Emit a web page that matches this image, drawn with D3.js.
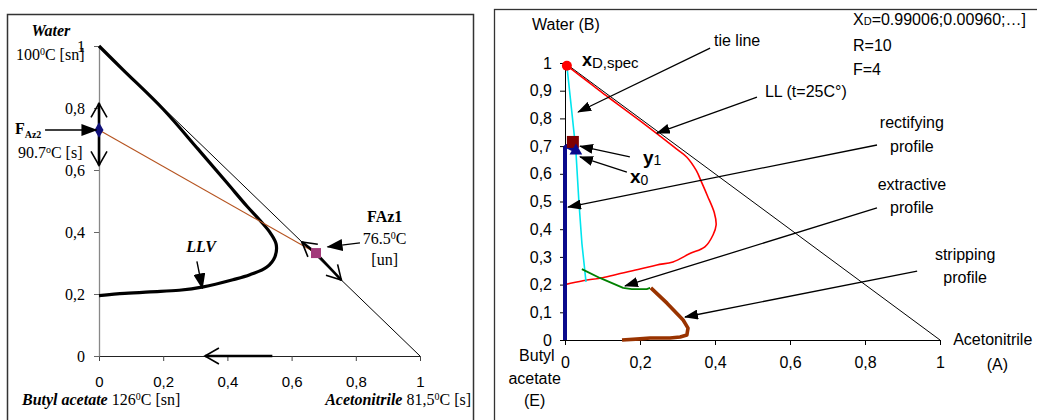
<!DOCTYPE html>
<html>
<head>
<meta charset="utf-8">
<script src="https://cdn.jsdelivr.net/npm/d3@7"></script>
<style>
  body { margin: 0; background: #fff; }
  svg { display: block; }
  .serif { font-family: "Liberation Serif", "Times New Roman", serif; }
  .sans { font-family: "Liberation Sans", Arial, sans-serif; }
</style>
</head>
<body>
<svg id="chart" width="1037" height="420"></svg>
<script>
// left diagram: Water / Butyl acetate / Acetonitrile, LLV envelope
const leftTicks = [0, 0.2, 0.4, 0.6, 0.8, 1];
const llvX = [0, 0.075, 0.2, 0.308, 0.40, 0.461, 0.502, 0.535, 0.552, 0.548, 0.523, 0.47, 0.417, 0.325, 0.25, 0.159, 0.08, 0];
const llvY = [1, 0.923, 0.796, 0.668, 0.557, 0.483, 0.437, 0.395, 0.36, 0.32, 0.287, 0.262, 0.246, 0.223, 0.212, 0.207, 0.202, 0.195];
const fAz2 = [0, 0.729];
const fAz1 = [0.676, 0.332];

// right diagram: profiles for XD spec
const rightTicksY = [0, 0.1, 0.2, 0.3, 0.4, 0.5, 0.6, 0.7, 0.8, 0.9, 1];
const rightTicksX = [0, 0.2, 0.4, 0.6, 0.8, 1];
const llX = [0, 0.048, 0.1, 0.147, 0.2, 0.245, 0.288, 0.333, 0.373, 0.395, 0.403, 0.398, 0.38, 0.365, 0.35, 0.325, 0.299, 0.245, 0.15, 0.11, 0.08, 0.059, 0.02, 0.005];
const llY = [0.2, 0.214, 0.225, 0.24, 0.256, 0.271, 0.282, 0.312, 0.336, 0.38, 0.415, 0.46, 0.52, 0.567, 0.612, 0.66, 0.688, 0.745, 0.842, 0.882, 0.913, 0.935, 0.975, 0.99];
const tieX = [0.005, 0.02, 0.029, 0.037, 0.045, 0.056];
const tieY = [0.99, 0.8, 0.683, 0.5, 0.35, 0.21];
const rectX = [0.029, 0.004, 0, 0];
const rectY = [0.683, 0.7, 0.695, 0];
const extX = [0.045, 0.093, 0.155, 0.178, 0.218, 0.227];
const extY = [0.256, 0.224, 0.188, 0.184, 0.184, 0.188];
const stripX = [0.229, 0.272, 0.315, 0.328, 0.325, 0.307, 0.28, 0.227, 0.2, 0.152];
const stripY = [0.188, 0.133, 0.072, 0.043, 0.018, 0.011, 0.007, 0.007, 0.004, 0];
const xDspec = [0.005, 0.99];
const y1pt = [0.021, 0.715];
const x0pt = [0.029, 0.683];

const zip = (xs, ys) => xs.map((v, i) => [v, ys[i]]);
const fmt = d => String(+d.toFixed(1)).replace('.', ',');

const svg = d3.select('#chart');
const defs = svg.append('defs');

defs.append('marker')
  .attr('id', 'head')
  .attr('viewBox', '0 0 14 10')
  .attr('refX', 13).attr('refY', 5)
  .attr('markerWidth', 14).attr('markerHeight', 10)
  .attr('markerUnits', 'userSpaceOnUse')
  .attr('orient', 'auto')
  .append('path').attr('d', 'M0,0L14,5L0,10Z').attr('fill', '#000');

defs.append('marker')
  .attr('id', 'bighead')
  .attr('viewBox', '0 0 16 12')
  .attr('refX', 15).attr('refY', 6)
  .attr('markerWidth', 16).attr('markerHeight', 12)
  .attr('markerUnits', 'userSpaceOnUse')
  .attr('orient', 'auto')
  .append('path').attr('d', 'M0,0L16,6L0,12Z').attr('fill', '#000');

defs.append('marker')
  .attr('id', 'chev')
  .attr('viewBox', '-1 -1 16 18')
  .attr('refX', 14).attr('refY', 8)
  .attr('markerWidth', 16).attr('markerHeight', 18)
  .attr('markerUnits', 'userSpaceOnUse')
  .attr('orient', 'auto')
  .style('overflow', 'visible')
  .append('path').attr('d', 'M0,0L14,8L0,16')
  .attr('fill', 'none').attr('stroke', '#000').attr('stroke-width', 1.6);

// ---------- left panel ----------
svg.append('rect')
  .attr('x', 7.5).attr('y', 14.5).attr('width', 466).attr('height', 420)
  .attr('fill', 'none').attr('stroke', '#333').attr('stroke-width', 1.5);

const xL = d3.scaleLinear().domain([0, 1]).range([99, 420]);
const yL = d3.scaleLinear().domain([0, 1]).range([356, 46]);
const left = svg.append('g');

const axXL = left.append('g')
  .attr('transform', `translate(0,${yL(0)})`)
  .call(d3.axisBottom(xL).tickValues(leftTicks).tickFormat(fmt).tickSize(5).tickSizeOuter(0).tickPadding(15));
axXL.select('.domain').attr('stroke', '#222');
axXL.selectAll('.tick line').attr('stroke', '#444');
axXL.selectAll('text').attr('class', 'sans').style('font-size', '15px').attr('fill', '#000');

const axYL = left.append('g')
  .attr('transform', `translate(${xL(0)},0)`)
  .call(d3.axisLeft(yL).tickValues(leftTicks).tickFormat(fmt).tickSize(5).tickSizeOuter(0).tickPadding(9));
axYL.select('.domain').attr('stroke', '#888').attr('stroke-width', 1.3);
axYL.selectAll('.tick line').attr('stroke', '#666');
axYL.selectAll('text').attr('class', 'serif').style('font-size', '16px').attr('fill', '#000');

const lineL = d3.line().x(d => xL(d[0])).y(d => yL(d[1]));

// triangle edge
left.append('path').attr('d', lineL([[0, 1], [1, 0]]))
  .attr('fill', 'none').attr('stroke', '#000').attr('stroke-width', 1);

// LLV
left.append('path')
  .attr('d', lineL.curve(d3.curveCatmullRom)(zip(llvX, llvY)))
  .attr('fill', 'none').attr('stroke', '#000').attr('stroke-width', 3.2)
  .attr('stroke-linejoin', 'round');
lineL.curve(d3.curveLinear);

// line between azeotropes
left.append('path').attr('d', lineL([fAz2, fAz1]))
  .attr('fill', 'none').attr('stroke', '#b5531f').attr('stroke-width', 1.1);

// separatrix arrows
const chevs = [
  [fAz2, [0, 0.815]], [fAz2, [0, 0.615]],
  [fAz1, [0.632, 0.368]], [fAz1, [0.755, 0.245]],
  [[0.54, 0], [0.33, 0]]
];
left.selectAll('.chev').data(chevs).enter().append('path')
  .attr('class', 'chev')
  .attr('d', d => lineL(d))
  .attr('fill', 'none').attr('stroke', '#000').attr('stroke-width', 2.6)
  .attr('marker-end', 'url(#chev)');

left.append('path')
  .attr('d', d3.symbol(d3.symbolDiamond, 70)())
  .attr('transform', `translate(${xL(fAz2[0])},${yL(fAz2[1])})`)
  .attr('fill', '#10107a');
left.append('rect')
  .attr('x', xL(fAz1[0]) - 5).attr('y', yL(fAz1[1]) - 5).attr('width', 10).attr('height', 10)
  .attr('fill', '#a23a7a');

// label arrows
const annL = [
  { from: [-0.168, 0.729], to: [-0.008, 0.729], m: 'bighead' },
  { from: [0.813, 0.365], to: [0.712, 0.352], m: 'bighead' },
  { from: [0.305, 0.305], to: [0.322, 0.218], m: 'bighead' }
];
left.selectAll('.ann').data(annL).enter().append('path')
  .attr('class', 'ann')
  .attr('d', d => lineL([d.from, d.to]))
  .attr('stroke', '#000').attr('stroke-width', 1.4)
  .attr('marker-end', d => `url(#${d.m})`);

function tx(g, x, y, anchor) {
  return g.append('text').attr('class', 'serif')
    .attr('x', x).attr('y', y).attr('text-anchor', anchor || 'start')
    .style('font-size', '16px').attr('fill', '#000');
}
function sup(t, s) {
  t.append('tspan').attr('baseline-shift', 'super').style('font-size', '10px').text(s);
}

tx(left, xL(-0.15), yL(1.032), 'middle').style('font-weight', 'bold').style('font-style', 'italic').text('Water');
let t = tx(left, xL(-0.152), yL(0.955), 'middle');
t.append('tspan').text('100'); sup(t, '0'); t.append('tspan').text('C [sn]');

t = tx(left, xL(-0.262), yL(0.716)).style('font-weight', 'bold');
t.append('tspan').text('F');
t.append('tspan').attr('dy', 4).style('font-size', '10px').text('Az2');
t = tx(left, xL(-0.152), yL(0.64), 'middle');
t.append('tspan').text('90.7'); sup(t, 'o'); t.append('tspan').text('C [s]');

tx(left, xL(0.89), yL(0.432), 'middle').style('font-weight', 'bold').text('FAz1');
t = tx(left, xL(0.89), yL(0.362), 'middle');
t.append('tspan').text('76.5'); sup(t, '0'); t.append('tspan').text('C');
tx(left, xL(0.89), yL(0.294), 'middle').text('[un]');

tx(left, xL(0.318), yL(0.335), 'middle').style('font-weight', 'bold').style('font-style', 'italic').text('LLV');

t = tx(left, xL(-0.24), yL(-0.158));
t.append('tspan').style('font-weight', 'bold').style('font-style', 'italic').text('Butyl acetate');
t.append('tspan').text(' 126'); sup(t, '0'); t.append('tspan').text('C [sn]');

t = tx(left, xL(1.159), yL(-0.158), 'end');
t.append('tspan').style('font-weight', 'bold').style('font-style', 'italic').text('Acetonitrile');
t.append('tspan').text('  81,5'); sup(t, '0'); t.append('tspan').text('C [s]');

// ---------- right panel ----------
svg.append('rect')
  .attr('x', 494.5).attr('y', 9.5).attr('width', 600).attr('height', 450)
  .attr('fill', 'none').attr('stroke', '#333').attr('stroke-width', 1.3);

const xR = d3.scaleLinear().domain([0, 1]).range([565, 940]);
const yR = d3.scaleLinear().domain([0, 1]).range([340, 63]);
const right = svg.append('g');
const lineR = d3.line().x(d => xR(d[0])).y(d => yR(d[1]));

const axXR = right.append('g')
  .attr('transform', `translate(0,${yR(0)})`)
  .call(d3.axisBottom(xR).tickValues(rightTicksX).tickFormat(fmt).tickSize(5).tickSizeOuter(0).tickPadding(12));
const axYR = right.append('g')
  .attr('transform', `translate(${xR(0)},0)`)
  .call(d3.axisLeft(yR).tickValues(rightTicksY).tickFormat(fmt).tickSize(5).tickSizeOuter(0).tickPadding(8));
[axXR, axYR].forEach(a => {
  a.select('.domain').attr('stroke', '#000');
  a.selectAll('.tick line').attr('stroke', '#000');
  a.selectAll('text').attr('class', 'sans').style('font-size', '16px').attr('fill', '#000');
});

right.append('path').attr('d', lineR([[0, 1], [1, 0]]))
  .attr('fill', 'none').attr('stroke', '#000').attr('stroke-width', 1);

const series = [
  { pts: zip(llX, llY), color: '#ff0000', w: 1.6, curve: d3.curveCatmullRom },
  { pts: zip(tieX, tieY), color: '#00e5ee', w: 1.6, curve: d3.curveLinear },
  { pts: zip(rectX, rectY), color: '#0a0a8c', w: 4, curve: d3.curveLinear },
  { pts: zip(extX, extY), color: '#008000', w: 1.8, curve: d3.curveLinear },
  { pts: zip(stripX, stripY), color: '#993300', w: 3.6, curve: d3.curveLinear }
];
right.selectAll('.series').data(series).enter().append('path')
  .attr('class', 'series')
  .attr('d', d => lineR.curve(d.curve)(d.pts))
  .attr('fill', 'none')
  .attr('stroke', d => d.color)
  .attr('stroke-width', d => d.w)
  .attr('stroke-linejoin', 'round');
lineR.curve(d3.curveLinear);

right.append('circle')
  .attr('cx', xR(xDspec[0])).attr('cy', yR(xDspec[1])).attr('r', 5)
  .attr('fill', '#ff0000');
right.append('rect')
  .attr('x', xR(y1pt[0]) - 6).attr('y', yR(y1pt[1]) - 6).attr('width', 12).attr('height', 12)
  .attr('fill', '#7f0000');
right.append('path')
  .attr('d', d3.symbol(d3.symbolTriangle, 70)())
  .attr('transform', `translate(${xR(x0pt[0])},${yR(x0pt[1])})`)
  .attr('fill', '#0a0a8c');

const annR = [
  { from: [0.387, 1.054], to: [0.035, 0.823] },
  { from: [0.512, 0.877], to: [0.245, 0.747] },
  { from: [0.832, 0.704], to: [0.008, 0.48] },
  { from: [0.832, 0.477], to: [0.16, 0.195] },
  { from: [0.939, 0.249], to: [0.32, 0.083] },
  { from: [0.173, 0.661], to: [0.04, 0.70] },
  { from: [0.165, 0.606], to: [0.04, 0.661] }
];
right.selectAll('.ann').data(annR).enter().append('path')
  .attr('class', 'ann')
  .attr('d', d => lineR([d.from, d.to]))
  .attr('stroke', '#000').attr('stroke-width', 1.3)
  .attr('marker-end', 'url(#head)');

function rt(x, y, anchor) {
  return right.append('text').attr('class', 'sans')
    .attr('x', xR(x)).attr('y', yR(y)).attr('text-anchor', anchor || 'start')
    .style('font-size', '16px').attr('fill', '#000');
}
function sub(tt, s, size, shift) {
  tt.append('tspan').attr('dy', shift).style('font-size', size + 'px').text(s);
}

rt(-0.088, 1.12).text('Water (B)');
rt(0.459, 1.063, 'middle').text('tie line');
rt(0.533, 0.877).text('LL (t=25C°)');
rt(0.925, 0.765, 'middle').text('rectifying');
rt(0.925, 0.68, 'middle').text('profile');
rt(0.925, 0.542, 'middle').text('extractive');
rt(0.925, 0.458, 'middle').text('profile');
rt(1.067, 0.288, 'middle').text('stripping');
rt(1.067, 0.205, 'middle').text('profile');
rt(1.035, -0.018).text('Acetonitrile');
rt(1.153, -0.108, 'middle').text('(A)');
rt(-0.075, -0.076, 'middle').text('Butyl');
rt(-0.081, -0.16, 'middle').text('acetate');
rt(-0.081, -0.24, 'middle').text('(E)');

let r = rt(0.768, 1.138);
r.append('tspan').text('X');
r.append('tspan').style('font-size', '11px').text('D');
r.append('tspan').text('=0.99006;0.00960;…]');
rt(0.768, 1.045).text('R=10');
rt(0.768, 0.955).text('F=4');

r = rt(0.045, 0.99);
r.append('tspan').style('font-weight', 'bold').style('font-size', '18px').text('x');
sub(r, 'D,spec', 15, 2);
r = rt(0.208, 0.637);
r.append('tspan').style('font-weight', 'bold').style('font-size', '19px').text('y');
sub(r, '1', 14, 1);
r = rt(0.173, 0.567);
r.append('tspan').style('font-weight', 'bold').style('font-size', '19px').text('x');
sub(r, '0', 14, 2);
</script>
</body>
</html>
